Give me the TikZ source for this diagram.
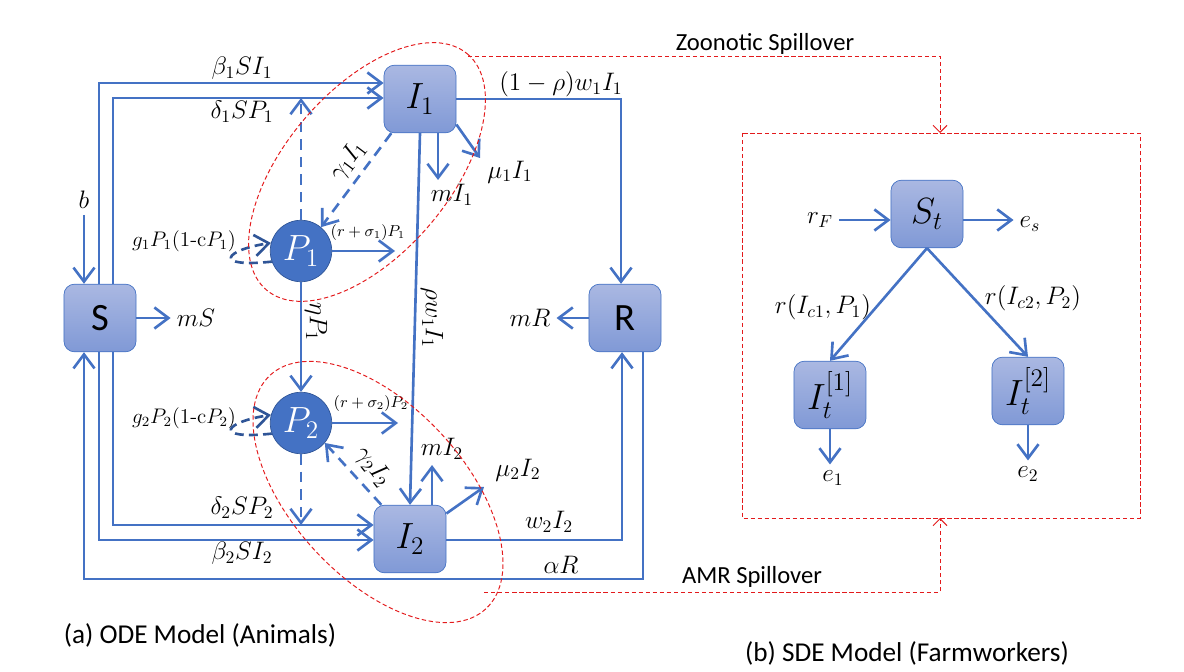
\documentclass[tikz,border=0pt]{standalone}
\usepackage{amsmath}
\usepackage{amssymb}
\usepackage{fontspec}
\setsansfont{Carlito}
\usepackage{tikz}
\usetikzlibrary{arrows.meta}

\definecolor{ofblau}{HTML}{4472C4}
\definecolor{ofdunkel}{HTML}{2F5597}
\definecolor{kastoben}{HTML}{AAB8E2}
\definecolor{kastunten}{HTML}{8099D6}
\definecolor{spillrot}{HTML}{E31A1C}

\begin{document}
\begin{tikzpicture}[%
        x=0.02cm, y=-0.02cm,
        font=\fontsize{14}{16}\selectfont,
        >={Straight Barb[length=8pt,width=12pt]}, % offene Pfeilspitzen
        kasten/.style={draw=ofblau, rounded corners=6pt, top color=kastoben,
            bottom color=kastunten, minimum width=41pt, minimum height=38.5pt,
            inner sep=0pt, font=\huge},
        pkreis/.style={circle, draw=ofdunkel, fill=ofblau, text=white,
            minimum size=35pt, inner sep=0pt, font=\huge},
        fluss/.style={draw=ofblau, line width=1.5pt},
        strich/.style={fluss, dash pattern=on 6pt off 4pt},
        schleife/.style={draw=ofdunkel, line width=1.5pt, dash pattern=on 5pt off 3pt},
        spill/.style={draw=spillrot, line width=0.55pt, dash pattern=on 2.5pt off 1.5pt},
        spillpfeil/.style={spill, -{Straight Barb[length=4pt,width=8pt]}},
        klein/.style={font=\small},
        wachs/.style={font=\fontsize{12}{14}\selectfont},
        titel/.style={font=\sffamily\fontsize{14}{16}\selectfont}
        ]
        \useasboundingbox (0,0) rectangle (1184,672);

        % Kompartimente
        \node[kasten, font=\sffamily\fontsize{22}{24}\selectfont] (S) at (100,318) {S};
        \node[kasten] (I1) at (420,99) {$I_1$};
        \node[kasten] (I2) at (410,539) {$I_2$};
        \node[kasten, font=\sffamily\fontsize{22}{24}\selectfont] (R) at (625,318) {R};
        \node[pkreis] (P1) at (301,251) {$P_1$};
        \node[pkreis] (P2) at (301,423) {$P_2$};

        % Hilfspunkte
        \coordinate (kb1) at (99,83);
        \coordinate (kd1) at (113,98);
        \coordinate (kd2) at (113,525);
        \coordinate (kb2) at (99,540);
        \coordinate (kar) at (643,579);
        \coordinate (ka) at (84,579);
        \coordinate (kw1) at (621,99);
        \coordinate (kw2) at (622,540);
        \coordinate (kmi1) at (438,180);
        \coordinate (kmu1) at (480,158);
        \coordinate (kmi2) at (432,465);
        \coordinate (kmu2) at (484,487);
        \coordinate (krs1) at (395,251);
        \coordinate (krs2) at (398,423);

        % Beschriftungen
        \node (lbeta1) at (242,68) {$\beta_1SI_1$};
        \node (ldelta1) at (242,112) {$\delta_1SP_1$};
        \node (lb) at (84,200) {$b$};
        \node (lmS) at (196,318) {$mS$};
        \node[wachs] (lg1) at (184,241) {$g_1P_1(\text{1-c}P_1)$};
        \node[klein] (lrs1) at (368,233) {$(r+\sigma_1)P_1$};
        \node[rotate=53] (lgam1) at (348,161) {$\gamma_1I_1$};
        \node (lmI1) at (452,195) {$mI_1$};
        \node (lmu1) at (510,172) {$\mu_1I_1$};
        \node (lw1) at (561,84) {$(1-\rho)w_1I_1$};
        \node[rotate=-90] (leta) at (316,322) {$\eta P_1$};
        \node[rotate=-90] (lrho) at (432,318) {$\rho w_1I_1$};
        \node (lmR) at (530,318) {$mR$};
        \node[wachs] (lg2) at (184,418) {$g_2P_2(\text{1-c}P_2)$};
        \node[klein] (lrs2) at (371,404) {$(r+\sigma_2)P_2$};
        \node[rotate=-52] (lgam2) at (373,467) {$\gamma_2I_2$};
        \node (lmI2) at (442,449) {$mI_2$};
        \node (lmu2) at (518,470) {$\mu_2I_2$};
        \node (ldelta2) at (242,508) {$\delta_2SP_2$};
        \node (lbeta2) at (242,553) {$\beta_2SI_2$};
        \node (lw2) at (549,522) {$w_2I_2$};
        \node (lalpha) at (561,565) {$\alpha R$};

        % Fluesse
        \draw[fluss,->] (S.north -| kb1) |- (I1.west |- kb1);
        \draw[fluss,->] (S.north -| kd1) |- (I1.west |- kd1);
        \draw[fluss,->] (S.south -| kd2) |- (I2.west |- kd2);
        \draw[fluss,->] (S.south -| kb2) |- (I2.west |- kb2);
        \draw[fluss,->] (I1.east |- kw1) -| (R.north -| kw1);
        \draw[fluss,->] (I2.east |- kw2) -| (R.south -| kw2);
        \draw[fluss,->] (R.south -| kar) |- (ka) -- (S.south -| ka);
        \draw[fluss,->] (lb.south) -- (S.north -| lb);
        \draw[fluss,->] (S.east) -- (lmS.west);
        \draw[fluss,->] (R.west) -- (lmR.east);
        \draw[fluss,->] (I1.south -| kmi1) -- (kmi1);
        \draw[fluss,->] (I1.-35) -- (kmu1);
        \draw[fluss,->] (I2.north -| kmi2) -- (kmi2);
        \draw[fluss,->] (I2.35) -- (kmu2);
        \draw[fluss,->] (I1.south) -- (I2.north);
        \draw[fluss,->] (P1.south) -- (P2.north);
        \draw[fluss,->] (P1.east) -- (krs1);
        \draw[fluss,->] (P2.east) -- (krs2);

        % gestrichelt
        \draw[strich,->] (P1.north) -- (P1.north |- kd1);
        \draw[strich,->] (P2.south) -- (P2.south |- kd2);
        \draw[strich,->] (I1.-130) -- (P1.50);
        \draw[strich,->] (I2.130) -- (P2.-40);
        \draw[schleife,->] (P1.200) .. controls (212,268) and (224,250) .. (P1.165);
        \draw[schleife,->] (P2.200) .. controls (212,440) and (224,422) .. (P2.165);

        % Bauernhof-Modell
        \node[kasten] (St) at (927,214) {$S_t$};
        \node[kasten] (Ic1) at (830,395) {$I_t^{[1]}$};
        \node[kasten] (Ic2) at (1028,391) {$I_t^{[2]}$};
        \node (lrF) at (820,220) {$r_F$};
        \node (les) at (1030,224) {$e_s$};
        \node (lr1) at (823,307) {$r(I_{c1},P_1)$};
        \node (lr2) at (1033,298) {$r(I_{c2},P_2)$};
        \node (le1) at (833,478) {$e_1$};
        \node (le2) at (1028,474) {$e_2$};
        \draw[fluss,->] (lrF.east) -- (St.west |- lrF);
        \draw[fluss,->] (St.east |- lrF) -- (les.west |- lrF);
        \draw[fluss,->] (St.south) -- (Ic1.north);
        \draw[fluss,->] (St.south) -- (Ic2.north);
        \draw[fluss,->] (Ic1.south) -- (Ic1.south |- le1.north);
        \draw[fluss,->] (Ic2.south) -- (Ic2.south |- le2.north);

        % Spillover
        \coordinate (F1) at (742,133);
        \coordinate (F2) at (1140,518);
        \coordinate (kz) at (468,56);
        \coordinate (kamr) at (484,592);
        \coordinate (kzo) at (940,133);
        \coordinate (kzu) at (940,518);
        \draw[spill] (F1) rectangle (F2);
        \draw[spill, rotate around={49.5:(367,172)}] (367,172) ellipse (155 and 82);
        \draw[spill, rotate around={-47.3:(378,492)}] (378,492) ellipse (159 and 86);
        \draw[spillpfeil] (kz) -| (kzo);
        \draw[spillpfeil] (kamr) -| (kzu);
        \node[titel] (lzoo) at (765,44) {Zoonotic Spillover};
        \node[titel] (lamr) at (752,577) {AMR Spillover};

        \node[titel, font=\sffamily\fontsize{15.5}{18}\selectfont] (capa) at (200,635) {(a) ODE Model (Animals)};
        \node[titel, font=\sffamily\fontsize{15.5}{18}\selectfont] (capb) at (907,653) {(b) SDE Model (Farmworkers)};
\end{tikzpicture}
\end{document}
